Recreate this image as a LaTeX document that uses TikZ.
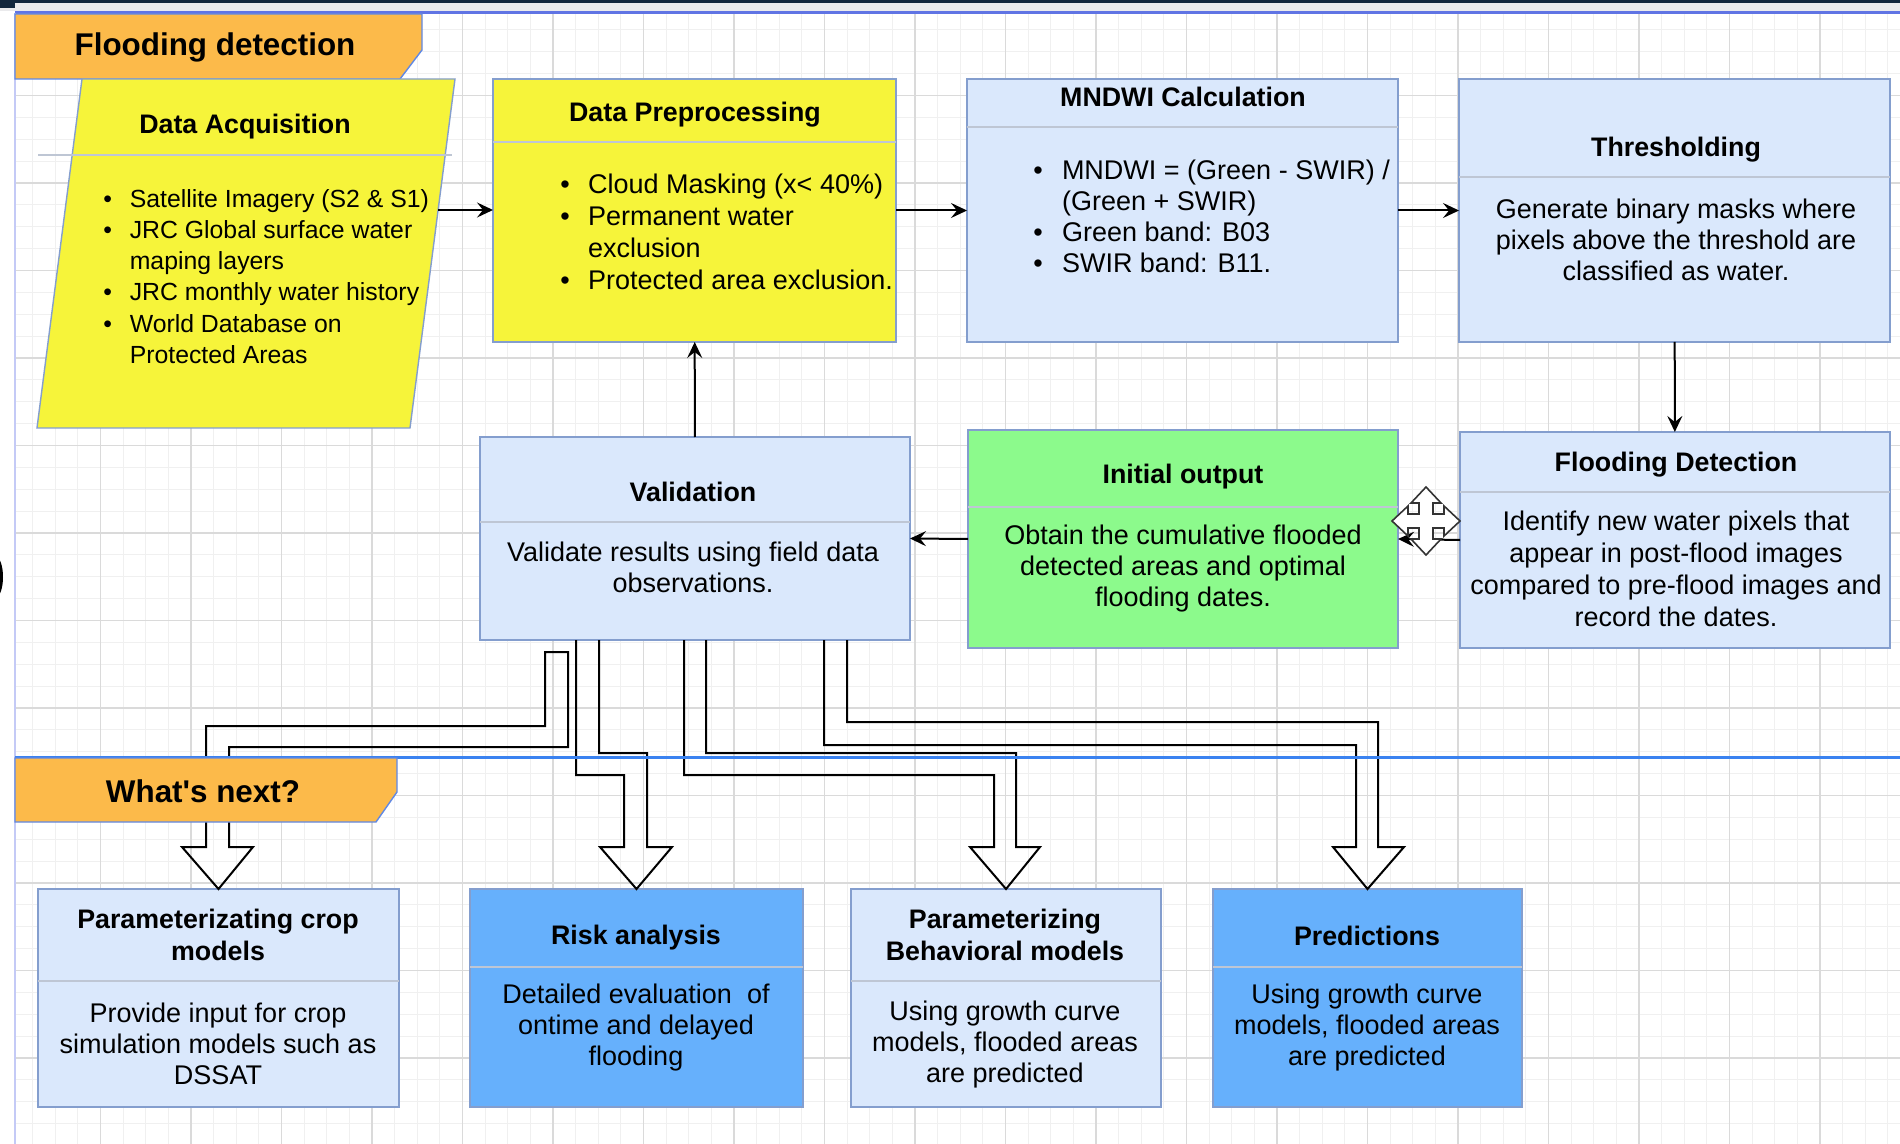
\documentclass[tikz,border=0pt]{standalone}
\usepackage{fontspec}
\setmainfont{Liberation Sans}
\usetikzlibrary{arrows.meta,fit}

\definecolor{navy}{RGB}{18,38,60}
\definecolor{topgray}{RGB}{234,234,236}
\definecolor{canvasline}{RGB}{96,116,228}
\definecolor{leftline}{RGB}{196,202,246}
\definecolor{midline}{RGB}{58,130,240}
\definecolor{gridminor}{RGB}{240,240,240}
\definecolor{gridmajor}{RGB}{218,218,218}
\definecolor{banner}{RGB}{252,186,74}
\definecolor{bannerline}{RGB}{96,136,228}
\definecolor{yellowbox}{RGB}{246,244,58}
\definecolor{lightbox}{RGB}{218,232,252}
\definecolor{midbox}{RGB}{102,176,252}
\definecolor{greenbox}{RGB}{140,250,140}
\definecolor{boxline}{RGB}{132,158,206}
\definecolor{sepline}{RGB}{190,198,212}

\newcommand\bulletbox[1]{\makebox[#1][l]{\textbullet}}

\begin{document}
\begin{tikzpicture}[%
      x=0.5pt, y=-0.5pt,
      box/.style={draw=boxline, line width=1pt, inner sep=0pt, outer sep=0pt},
      hd/.style={font=\fontsize{13.4}{16}\selectfont\bfseries, align=center},
      txt/.style={font=\fontsize{13.5}{15.5}\selectfont, align=center},
      sep/.style={draw=sepline, line width=0.7pt},
      arr/.style={draw=black, line width=1pt, -{Stealth[length=8pt,width=7.5pt,inset=3pt]}},
      flex/.style={draw=black, line width=1pt},
      mgrid/.style={draw=gridminor, line width=0.5pt},
      bgrid/.style={draw=gridmajor, line width=0.6pt},
      ]
      \useasboundingbox (0,0) rectangle (1900,1144);
      \fill [white] (0,0) rectangle (1900,1144);
      \foreach \i in {1,...,83} \draw [mgrid] ({10+22.625*\i},13) -- ({10+22.625*\i},1144);
      \foreach \j in {1,...,51} \draw [mgrid] (15,{8+21.875*\j}) -- (1900,{8+21.875*\j});
      \foreach \i in {1,...,20} \draw [bgrid] ({10+90.5*\i},13) -- ({10+90.5*\i},1144);
      \foreach \j in {1,...,12} \draw [bgrid] (15,{8+87.5*\j}) -- (1900,{8+87.5*\j});

      \fill [topgray] (0,3) rectangle (1900,11);
      \fill [navy] (0,0) rectangle (1900,3);
      \fill [navy] (0,0) rectangle (15,8);
      \draw [canvasline, line width=1.5pt] (15,13) -- (1900,13);
      \draw [leftline, line width=1pt] (15,13) -- (15,1144);
      \fill [black] (-4,577) ellipse [x radius=7, y radius=20];

      \filldraw [fill=banner, draw=bannerline, line width=0.7pt] (15,14) -- (422,14) -- (422,50) -- (400,79) -- (15,79) -- cycle;
      \node [font=\fontsize{15.7}{18}\selectfont\bfseries] (topbanner) at (215,47) {Flooding detection};

      \filldraw [fill=yellowbox, draw=boxline, line width=0.7pt] (82,79) -- (455,79) -- (410,428) -- (37,428) -- cycle;
      \draw [sep] (38,155) -- (452,155);
      \node [hd] (acq-t) at (245,127) {Data Acquisition};
      \node [anchor=west, inner sep=0pt, font=\fontsize{12.4}{15.6}\selectfont] (acq-b) at (103,279) {%
        \begin{tabular}{@{}l@{}l@{}}
        \bulletbox{13.2pt} & Satellite Imagery (S2 \& S1)\\
        \bulletbox{13.2pt} & JRC Global surface water\\
         & maping layers\\
        \bulletbox{13.2pt} & JRC monthly water history\\
        \bulletbox{13.2pt} & World Database on\\
         & Protected Areas
        \end{tabular}};
      \coordinate (acq-out) at (438,210);

      \node [box, fill=yellowbox, fit={(493,79) (896,342)}] (preproc) {};
      \draw [sep] (493,142) -- (896,142);
      \node [hd] (preproc-t) at (695,115) {Data Preprocessing};
      \node [anchor=west, inner sep=0pt, font=\fontsize{13.5}{16}\selectfont] (preproc-b) at (560,235) {%
        \begin{tabular}{@{}l@{}l@{}}
        \bulletbox{13.9pt} & Cloud Masking (x< 40\%)\\
        \bulletbox{13.9pt} & Permanent water\\
         & exclusion\\
        \bulletbox{13.9pt} & Protected area exclusion.
        \end{tabular}};

      \node [box, fill=lightbox, fit={(967,79) (1398,342)}] (mndwi) {};
      \draw [sep] (967,127) -- (1398,127);
      \node [hd] (mndwi-t) at (1183,97) {MNDWI Calculation};
      \node [anchor=west, inner sep=0pt, font=\fontsize{13.5}{15.5}\selectfont] (mndwi-b) at (1033,220) {%
        \begin{tabular}{@{}l@{}l@{}}
        \bulletbox{14.3pt} & MNDWI = (Green - SWIR) /\\
         & (Green + SWIR)\\
        \bulletbox{14.3pt} & Green band: B03\\
        \bulletbox{14.3pt} & SWIR band: B11.
        \end{tabular}};

      \node [box, fill=lightbox, fit={(1459,79) (1890,342)}] (thresh) {};
      \draw [sep] (1459,177) -- (1890,177);
      \node [hd] (thresh-t) at (1676,150) {Thresholding};
      \node [txt] (thresh-b) at (1676,240) {Generate binary masks where\\pixels above the threshold are\\classified as water.};

      \node [box, fill=lightbox, fit={(1460,432) (1890,648)}] (flooddet) {};
      \draw [sep] (1460,492) -- (1890,492);
      \node [hd] (flooddet-t) at (1676,465) {Flooding Detection};
      \node [txt, font=\fontsize{13.5}{16}\selectfont] (flooddet-b) at (1676,568.5) {Identify new water pixels that\\appear in post-flood images\\compared to pre-flood images and\\record the dates.};

      \node [box, fill=greenbox, fit={(968,430) (1398,648)}] (initial) {};
      \draw [sep] (968,507) -- (1398,507);
      \node [hd] (initial-t) at (1183,477) {Initial output};
      \node [txt] (initial-b) at (1183,569) {Obtain the cumulative flooded\\detected areas and optimal\\flooding dates.};

      \node [box, fill=lightbox, fit={(480,437) (910,640)}] (valid) {};
      \draw [sep] (480,522) -- (910,522);
      \node [hd] (valid-t) at (693,492) {Validation};
      \node [txt] (valid-b) at (693,567) {Validate results using field data\\observations.};

      \node [box, fill=lightbox, fit={(38,889) (399,1107)}] (crop) {};
      \draw [sep] (38,981) -- (399,981);
      \node [hd] (crop-t) at (218,935) {Parameterizating crop\\models};
      \node [txt] (crop-b) at (218,1044) {Provide input for crop\\simulation models such as\\DSSAT};

      \node [box, fill=midbox, fit={(470,889) (803,1107)}] (risk) {};
      \draw [sep] (470,967) -- (803,967);
      \node [hd] (risk-t) at (636,938) {Risk analysis};
      \node [txt] (risk-b) at (636,1028) {Detailed evaluation\ \ of\\ontime and delayed\\flooding};

      \node [box, fill=lightbox, fit={(851,889) (1161,1107)}] (behav) {};
      \draw [sep] (851,981) -- (1161,981);
      \node [hd] (behav-t) at (1005,935) {Parameterizing\\Behavioral models};
      \node [txt] (behav-b) at (1005,1045) {Using growth curve\\models, flooded areas\\are predicted};

      \node [box, fill=midbox, fit={(1213,889) (1522,1107)}] (pred) {};
      \draw [sep] (1213,967) -- (1522,967);
      \node [hd] (pred-t) at (1367,936) {Predictions};
      \node [txt] (pred-b) at (1367,1028) {Using growth curve\\models, flooded areas\\are predicted};

      \draw [arr] (acq-out) -- (acq-out -| preproc.west);
      \draw [arr] (preproc) -- (mndwi);
      \draw [arr] (mndwi) -- (thresh);
      \draw [arr] (thresh) -- (flooddet);
      \draw [arr] (flooddet.west) -- (initial.east);
      \draw [arr] (initial.west) -- (valid.east);
      \draw [arr] (valid) -- (preproc);

      \draw [flex] (545,652) -- (545,726) -- (206,726) -- (206,847) -- (182,847) -- (crop.north) -- (253,847) -- (229,847) -- (229,747) -- (568,747) -- (568,652) -- cycle;
      \draw [flex] (valid.south -| 576,0) -- (576,775) -- (624,775) -- (624,847) -- (600,847) -- (risk.north) -- (672,847) -- (647,847) -- (647,753) -- (599,753) -- (valid.south -| 599,0);
      \draw [flex] (valid.south -| 684,0) -- (684,775) -- (994,775) -- (994,847) -- (970,847) -- (behav.north) -- (1040,847) -- (1016,847) -- (1016,753) -- (706,753) -- (valid.south -| 706,0);
      \draw [flex] (valid.south -| 824,0) -- (824,745) -- (1356,745) -- (1356,847) -- (1333,847) -- (pred.north) -- (1404,847) -- (1378,847) -- (1378,722) -- (847,722) -- (valid.south -| 847,0);

      \draw [midline, line width=1.5pt] (15,757) -- (1900,757);
      \filldraw [fill=banner, draw=bannerline, line width=0.7pt] (15,758) -- (397,758) -- (397,792) -- (376,822) -- (15,822) -- cycle;
      \node [font=\fontsize{15.7}{18}\selectfont\bfseries] (nextbanner) at (203,791) {What\textquotesingle s next?};

      \begin{scope}[shift={(1426,521)}]
        \filldraw [fill=white, draw=black!80, line width=0.8pt] (0,-34) -- (15,-18) -- (7,-18) -- (7,-7) -- (18,-7) -- (18,-15) -- (34,0) -- (18,15) -- (18,7) -- (7,7) -- (7,18) -- (15,18) -- (0,34) -- (-15,18) -- (-7,18) -- (-7,7) -- (-18,7) -- (-18,15) -- (-34,0) -- (-18,-15) -- (-18,-7) -- (-7,-7) -- (-7,-18) -- (-15,-18) -- cycle;
      \end{scope}
\end{tikzpicture}
\end{document}
